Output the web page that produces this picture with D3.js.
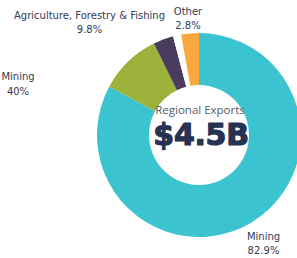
<!DOCTYPE html>
<html><head><meta charset="utf-8">
<script src="https://cdn.jsdelivr.net/npm/d3@7"></script>
<style>
html,body{margin:0;padding:0;background:#fff;overflow:hidden}
svg{display:block}
</style></head>
<body>
<svg id="c" width="297" height="258"></svg>
<script>
const categories = ["Mining", "Agriculture, Forestry & Fishing", "Manufacturing", "", "Other"];
const shares = [82.9, 9.8, 3.2, 1.3, 2.8];
const colors = ["#3bc3cf", "#9db23a", "#4a3c5f", "#ffffff", "#f9a93b"];
const labelText = ["82.9%", "9.8%", "", "", "2.8%"];
const centerTitle = "Regional Exports";
const centerValue = "$4.5B";
const strayLabel = ["Mining", "40%"];

const svg = d3.select("#c");
const cx = 199, cy = 135, rOuter = 102, rInner = 50;
const g = svg.append("g").attr("transform", `translate(${cx},${cy})`);

const pie = d3.pie().sort(null).value(d => d.v);
const data = categories.map((c, i) => ({c, v: shares[i], col: colors[i]}));
const arcs = pie(data);
const arc = d3.arc().innerRadius(rInner).outerRadius(rOuter);

g.selectAll("path").data(arcs).join("path")
  .attr("d", arc).attr("fill", d => d.data.col);

const font = "'DejaVu Sans', sans-serif";
const txtCol = "#343a55";
const fs = 10;
const lh = 14.5;
// label layout: [x, y of first line] absolute
const labelPos = {0: [263.5, 239.5], 1: [89.5, 18.5], 4: [188, 14.5]};
Object.entries(labelPos).forEach(([i, p]) => {
  const t = svg.append("text").attr("x", p[0]).attr("y", p[1])
    .attr("text-anchor", "middle").attr("font-family", font)
    .attr("font-size", fs).attr("fill", txtCol);
  t.append("tspan").attr("x", p[0]).attr("dy", 0).text(categories[i]);
  t.append("tspan").attr("x", p[0]).attr("dy", lh).text(labelText[i]);
});
const s = svg.append("text").attr("x", 18).attr("y", 80)
  .attr("text-anchor", "middle").attr("font-family", font)
  .attr("font-size", fs).attr("fill", txtCol);
s.append("tspan").attr("x", 18).attr("dy", 0).text(strayLabel[0]);
s.append("tspan").attr("x", 18).attr("dy", lh).text(strayLabel[1]);

g.append("text").attr("x", 1).attr("y", -21).attr("text-anchor", "middle")
  .attr("font-family", "'Open Sans', sans-serif").attr("font-size", 11.5)
  .attr("fill", "#555a66").text(centerTitle);
g.append("text").attr("x", 2).attr("y", 10).attr("text-anchor", "middle")
  .attr("font-family", "'DejaVu Sans', sans-serif").attr("font-weight", 900)
  .attr("font-size", 30).attr("fill", "#263252")
  .attr("stroke", "#263252").attr("stroke-width", 1.2).attr("stroke-linejoin", "round")
  .attr("letter-spacing", -0.3)
  .text(centerValue);
</script>
</body></html>
